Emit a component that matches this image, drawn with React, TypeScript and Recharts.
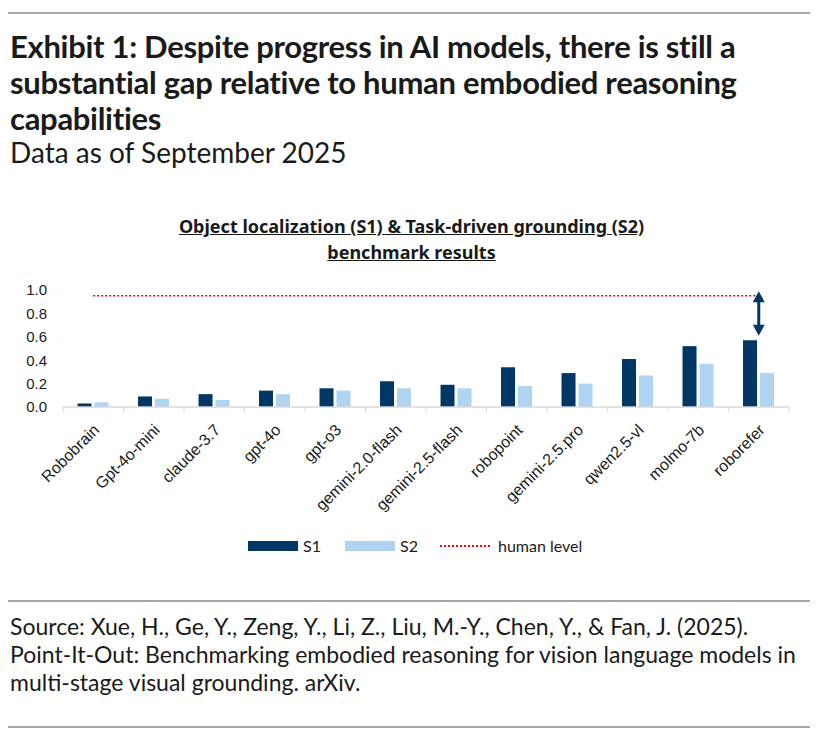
import React from 'react';
import { ComposedChart, Bar, Line, XAxis, YAxis, ReferenceLine } from 'recharts';

const models = [
  'Robobrain', 'Gpt-4o-mini', 'claude-3.7', 'gpt-4o', 'gpt-o3', 'gemini-2.0-flash',
  'gemini-2.5-flash', 'robopoint', 'gemini-2.5.pro', 'qwen2.5-vl', 'molmo-7b', 'roborefer',
];
const s1Scores = [0.03, 0.09, 0.11, 0.14, 0.16, 0.22, 0.19, 0.34, 0.29, 0.41, 0.52, 0.57];
const s2Scores = [0.04, 0.07, 0.06, 0.11, 0.14, 0.16, 0.16, 0.18, 0.20, 0.27, 0.37, 0.29];
const humanLevel = [0.95, 0.95, 0.95, 0.95, 0.95, 0.95, 0.95, 0.95, 0.95, 0.95, 0.95, 0.95];
const yTicks = [0, 0.2, 0.4, 0.6, 0.8, 1.0];
const gapArrow = { model: 'roborefer', top: 0.99, bottom: 0.61 };

const NAVY = '#003764';
const LIGHT = '#AED4F1';
const AXIS_GREY = '#d9d9d9';
const TEXT = '#1a1a1a';
const headFont = 'Lato, "Open Sans", sans-serif';
const chartFont = '"Liberation Sans", Arial, sans-serif';

const data = models.map((m, i) => ({
  model: m,
  s1: s1Scores[i],
  s2: s2Scores[i],
  human: humanLevel[i],
}));

// category label plus a tick mark on the band boundary (Excel style)
const CategoryTick = ({ x, y, payload, index }: any) => {
  const half = payload && payload.offset ? payload.offset : 30.25;
  const ax = x + 7;
  const ay = y + 24;
  return (
    <g>
      <line x1={x - half} x2={x - half} y1={y} y2={y + 5} stroke={AXIS_GREY} />
      {index === models.length - 1 && (
        <line x1={x + half} x2={x + half} y1={y} y2={y + 5} stroke={AXIS_GREY} />
      )}
      <text
        x={ax}
        y={ay}
        textAnchor="end"
        transform={`rotate(-45, ${ax}, ${ay})`}
        fontSize={16}
        fontFamily={chartFont}
        fill={TEXT}
      >
        {payload.value}
      </text>
    </g>
  );
};

const DoubleArrow = ({ x1, y1, x2, y2 }: any) => {
  const top = Math.min(y1, y2);
  const bottom = Math.max(y1, y2);
  const x = x1;
  return (
    <g>
      <line x1={x} x2={x} y1={top + 8} y2={bottom - 8} stroke={NAVY} strokeWidth={3} />
      <polygon points={`${x},${top} ${x - 6},${top + 11} ${x + 6},${top + 11}`} fill={NAVY} />
      <polygon points={`${x},${bottom} ${x - 6},${bottom - 11} ${x + 6},${bottom - 11}`} fill={NAVY} />
    </g>
  );
};

const LegendRow = () => (
  <div style={{ position: 'absolute', top: 536, left: 248, display: 'flex', alignItems: 'center', fontFamily: headFont, fontSize: 16, color: TEXT }}>
    <span style={{ width: 50, height: 10, background: NAVY, display: 'inline-block' }} />
    <span style={{ marginLeft: 5, width: 42 }}>S1</span>
    <span style={{ width: 50, height: 10, background: LIGHT, display: 'inline-block' }} />
    <span style={{ marginLeft: 5, width: 40 }}>S2</span>
    <span style={{ width: 50, borderTop: '2px dotted #ff0000', display: 'inline-block' }} />
    <span style={{ marginLeft: 8 }}>human level</span>
  </div>
);

export default function App() {
  return (
    <div style={{ position: 'absolute', left: 0, top: 0, width: 816, height: 734, background: '#fff', color: TEXT, overflow: 'hidden' }}>
      <div style={{ position: 'absolute', left: 8, top: 12, width: 802, borderTop: '2px solid #a6a6a6' }} />
      <div style={{ position: 'absolute', left: 10, top: 28, fontFamily: headFont, fontWeight: 700, fontSize: 31, lineHeight: '36px', width: 800, letterSpacing: -0.3 }}>
        Exhibit 1: Despite progress in AI models, there is still a<br />
        substantial gap relative to human embodied reasoning<br />
        capabilities
      </div>
      <div style={{ position: 'absolute', left: 10, top: 136, fontFamily: headFont, fontSize: 28, lineHeight: '32px' }}>
        Data as of September 2025
      </div>

      <div style={{ position: 'absolute', left: 0, width: 823, top: 213, textAlign: 'center', fontFamily: '"Noto Sans", Lato, sans-serif', fontWeight: 700, fontSize: 18, lineHeight: '26px', textDecoration: 'underline' }}>
        Object localization (S1) &amp; Task-driven grounding (S2)<br />
        benchmark results
      </div>

      <div style={{ position: 'absolute', left: 0, top: 270 }}>
        <ComposedChart
          width={816}
          height={250}
          data={data}
          margin={{ top: 20, right: 27, left: 13, bottom: 0 }}
          barCategoryGap="24%"
          barGap={3}
        >
          <XAxis
            dataKey="model"
            interval={0}
            height={113}
            tickSize={0}
            tickMargin={0}
            tickLine={false}
            axisLine={{ stroke: AXIS_GREY, strokeWidth: 1.5 }}
            tick={<CategoryTick />}
          />
          <YAxis
            width={50}
            domain={[0, 1]}
            ticks={yTicks}
            tickFormatter={(v: number) => v.toFixed(1)}
            axisLine={false}
            tickLine={false}
            tickMargin={10}
            tick={{ fontSize: 15, fontFamily: chartFont, fill: TEXT }}
          />
          <Bar dataKey="s1" name="S1" fill={NAVY} isAnimationActive={false} />
          <Bar dataKey="s2" name="S2" fill={LIGHT} isAnimationActive={false} />
          <Line
            dataKey="human"
            name="human level"
            stroke="#ff0000"
            strokeWidth={1.5}
            strokeDasharray="2 2"
            dot={false}
            activeDot={false}
            isAnimationActive={false}
          />
          <ReferenceLine
            segment={[{ x: gapArrow.model, y: gapArrow.top }, { x: gapArrow.model, y: gapArrow.bottom }]}
            shape={<DoubleArrow />}
            ifOverflow="visible"
          />
        </ComposedChart>
      </div>

      <LegendRow />

      <div style={{ position: 'absolute', left: 8, top: 600, width: 802, borderTop: '2px solid #a6a6a6' }} />
      <div style={{ position: 'absolute', left: 10, top: 612, fontFamily: headFont, fontSize: 23, lineHeight: '28px', width: 806, whiteSpace: 'nowrap' }}>
        Source: Xue, H., Ge, Y., Zeng, Y., Li, Z., Liu, M.-Y., Chen, Y., &amp; Fan, J. (2025).<br />
        Point-It-Out: Benchmarking embodied reasoning for vision language models in<br />
        multi-stage visual grounding. arXiv.
      </div>
      <div style={{ position: 'absolute', left: 8, top: 726, width: 802, borderTop: '2px solid #a6a6a6' }} />
    </div>
  );
}
